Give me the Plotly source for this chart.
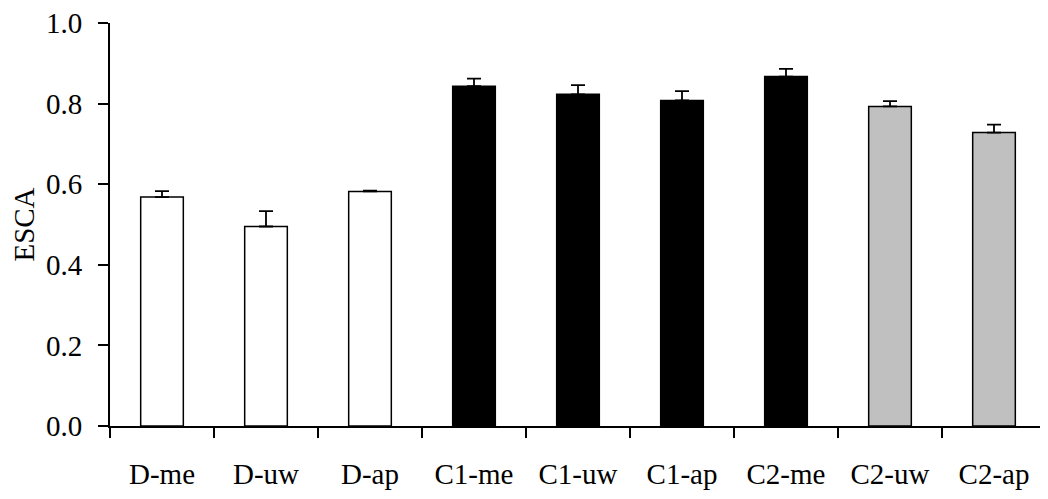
import plotly.graph_objects as go

categories = ["D-me", "D-uw", "D-ap", "C1-me", "C1-uw", "C1-ap", "C2-me", "C2-uw", "C2-ap"]
values = [0.568, 0.495, 0.582, 0.843, 0.823, 0.808, 0.867, 0.793, 0.728]
errors = [0.015, 0.038, 0.002, 0.019, 0.023, 0.023, 0.019, 0.013, 0.020]
colors = ["#ffffff", "#ffffff", "#ffffff", "#000000", "#000000", "#000000", "#000000", "#c0c0c0", "#c0c0c0"]
y_ticks = [0.0, 0.2, 0.4, 0.6, 0.8, 1.0]

font_family = "Liberation Serif, Times New Roman, serif"
FS = 29

fig = go.Figure()
fig.add_trace(go.Bar(
    x=categories,
    y=values,
    width=0.41,
    marker=dict(color=colors, line=dict(color="#000000", width=1.5)),
    error_y=dict(type="data", symmetric=False, array=errors,
                 arrayminus=[0] * len(errors), color="#000000",
                 thickness=1.8, width=7),
    showlegend=False,
))

# page has an 8px body margin; figure size/margins compensate so the plot lands where the reference has it
fig.update_layout(
    width=1040, height=491,
    margin=dict(l=102, r=2, t=15, b=73),
    paper_bgcolor="white", plot_bgcolor="white",
    font=dict(family=font_family, size=FS, color="black"),
)
fig.update_xaxes(
    type="category",
    range=[-0.5, 8.5],
    showline=True, linecolor="black", linewidth=2,
    ticks="outside", tickson="boundaries", ticklen=10, tickwidth=2, tickcolor="black",
    showgrid=False, zeroline=False,
    tickfont=dict(family=font_family, size=FS, color="black"),
    ticklabelstandoff=21,
    automargin=False,
)
fig.update_yaxes(
    range=[0, 1.0],
    tickvals=y_ticks,
    ticktext=[f"{v:.1f}" for v in y_ticks],
    showline=True, linecolor="black", linewidth=2,
    ticks="outside", ticklen=10, tickwidth=2, tickcolor="black",
    showgrid=False, zeroline=False,
    tickfont=dict(family=font_family, size=FS, color="black"),
    ticklabelstandoff=10,
    ticklabeloverflow="allow",
    title=dict(text="ESCA", font=dict(family=font_family, size=FS, color="black"), standoff=13),
    automargin=False,
)

fig.write_html("out.html")
